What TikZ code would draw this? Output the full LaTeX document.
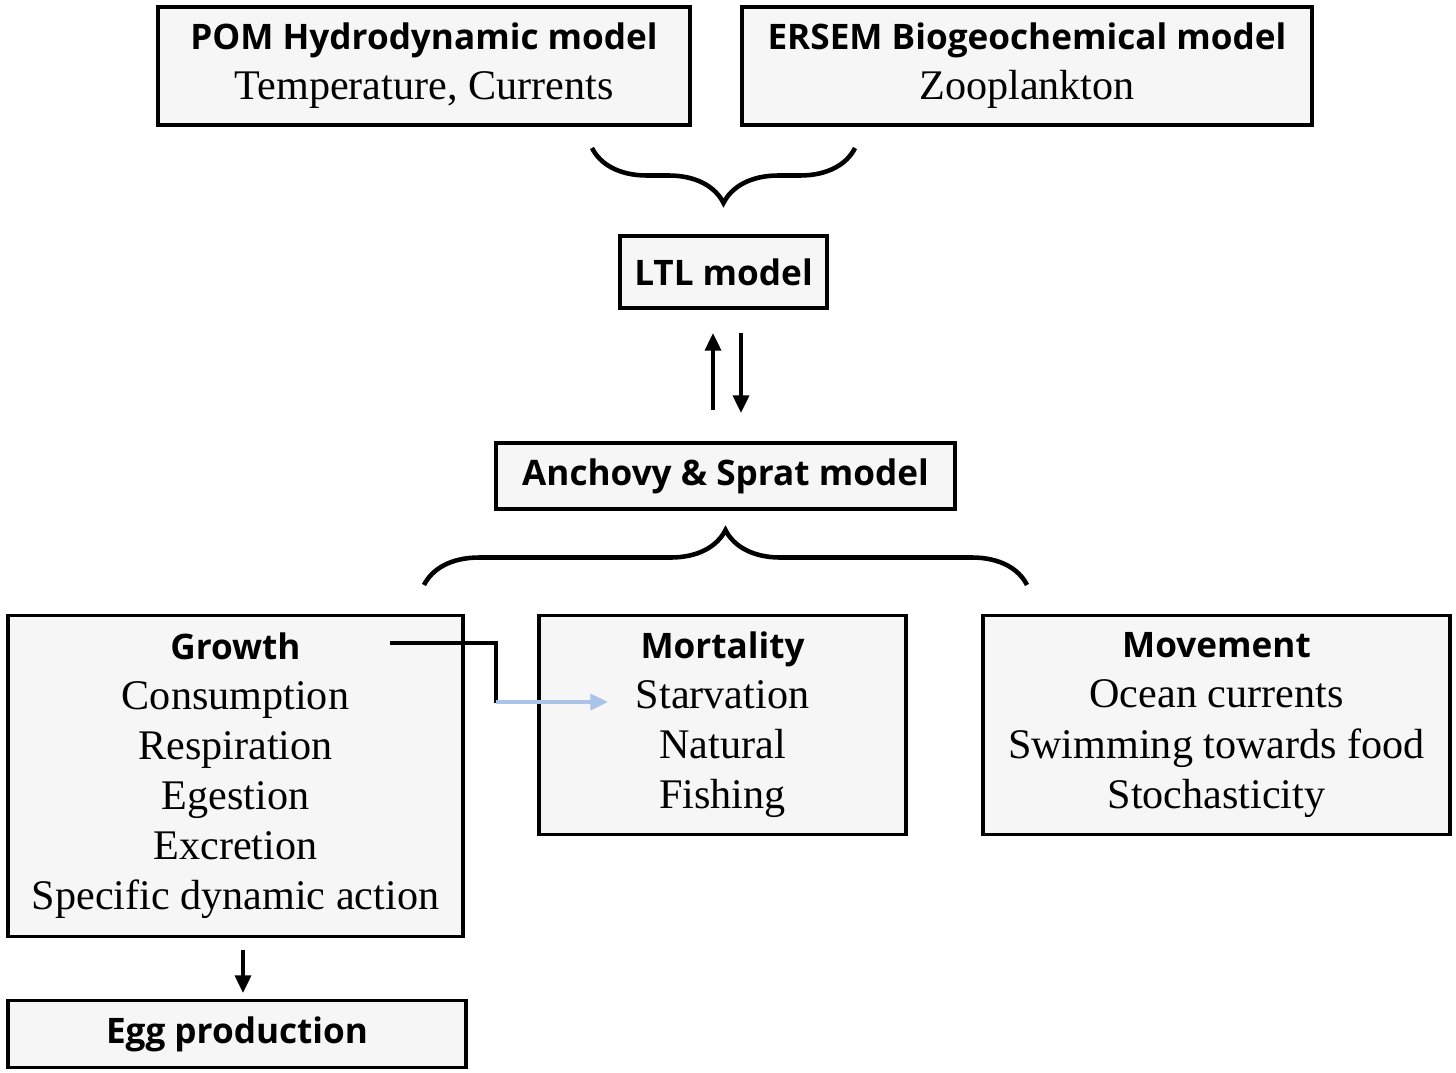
\documentclass[tikz,border=0pt]{standalone}
\usepackage{fontspec}
\setmainfont{Liberation Serif}
\newfontfamily\hdfont{Open Sans}
\usetikzlibrary{arrows.meta, decorations.pathreplacing}
\tikzset{
  box/.style={rectangle, draw=black, line width=2pt, fill=gray!7, align=center,
    font=\fontsize{24}{28.5}\selectfont, inner sep=0pt},
  arrow/.style={line width=2.2pt, -{Triangle[length=10pt,width=9pt]}},
  brc/.style={line width=2.6pt, decorate, decoration={brace, amplitude=1.1cm, aspect=0.5}}
}
\newcommand{\hd}[1]{{\hdfont\bfseries\fontsize{20}{28.5}\selectfont #1}}
\begin{document}
\begin{tikzpicture}[x=0.02cm, y=-0.02cm]
\useasboundingbox (0,0) rectangle (1456,1072);
\node (pom) [box, minimum width=10.64cm, minimum height=2.36cm] at (424,66)
	{\hd{POM Hydrodynamic model}\\Temperature, Currents};
\node (ersem) [box, minimum width=11.4cm, minimum height=2.36cm] at (1027,66)
	{\hd{ERSEM Biogeochemical model}\\Zooplankton};
\node (ltl) [box, minimum width=4.14cm, minimum height=1.44cm] at (723.5,272)
	{\hd{LTL model}};
\node (fish) [box, minimum width=9.18cm, minimum height=1.32cm] at (725.5,476)
	{\hd{Anchovy \& Sprat model}};
\node (growth) [box, minimum width=9.1cm, minimum height=6.42cm] at (235.5,776)
	{\hd{Growth}\\Consumption\\Respiration\\Egestion\\Excretion\\Specific dynamic action};
\node (mort) [box, minimum width=7.34cm, minimum height=4.38cm] at (722.5,725)
	{\hd{Mortality}\\Starvation\\Natural\\Fishing};
\node (move) [box, minimum width=9.34cm, minimum height=4.38cm] at (1216.5,725)
	{\hd{Movement}\\Ocean currents\\Swimming towards food\\Stochasticity};
\node (egg) [box, minimum width=9.16cm, minimum height=1.34cm] at (237,1034)
	{\hd{Egg production}};

% braces
\draw [brc] (855,148) -- (592,148);
\draw [brc] (424,585) -- (1027,585);

% link ends
\coordinate (upA) at (713,410);
\coordinate (upB) at (713,333);
\coordinate (dnA) at (741,333);
\coordinate (dnB) at (741,413);
\coordinate (eggA) at (243,950);
\coordinate (eggB) at (243,993);
\coordinate (gOut) at (390,643);
\coordinate (turn) at (496,643);
\coordinate (bend) at (496,702);
\coordinate (mIn) at (608,702);

\draw [arrow] (upA) -- (upB);
\draw [arrow] (dnA) -- (dnB);
\draw [arrow] (eggA) -- (eggB);
\draw [line width=2.2pt] (gOut) -- (turn) -- ([yshift=-0.02cm]bend);
\draw [line width=2.2pt, color={rgb,255:red,170;green,195;blue,232}, -{Triangle[length=10pt,width=9pt]}]
	(bend) -- (mIn);
\end{tikzpicture}
\end{document}
